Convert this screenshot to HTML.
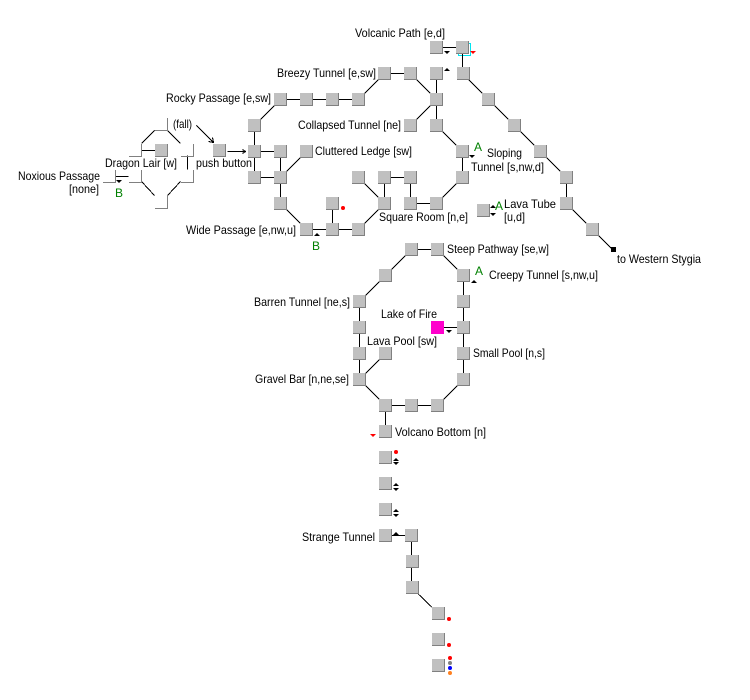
<!DOCTYPE html>
<html><head><meta charset="utf-8"><title>Map</title>
<style>
html,body{margin:0;padding:0;background:#fff;width:750px;height:700px;overflow:hidden}
svg{display:block}
text{font-family:"Liberation Sans",Arial,sans-serif;font-size:12px;fill:#000}
.g{fill:#008000}
</style></head><body>
<svg width="750" height="700" viewBox="0 0 750 700" xmlns="http://www.w3.org/2000/svg">
<defs>
<g id="r"><rect x="-1" y="-1" width="13" height="13" fill="#c0c0c0"/><path d="M11.5 -1V11.5H-1" fill="none" stroke="#808080" shape-rendering="crispEdges"/></g>
<g id="m"><rect x="-1" y="-1" width="13" height="13" fill="#ff00cc"/></g>
<path id="h" d="M11.5 -1V11.5H-1" fill="none" stroke="#808080" shape-rendering="crispEdges"/>
<path id="u" d="M-3 2H3L0 -1Z"/>
<path id="d" d="M-3 -1H3L0 2Z"/>
</defs>
<rect x="458.5" y="43.5" width="12" height="12" fill="none" stroke="#00e5f0" shape-rendering="crispEdges"/>
<g stroke="#000" fill="none" shape-rendering="crispEdges" transform="translate(-.5 -.5)">
<path d="M437 48H463V74L567 178V204L613 250"/>
<path d="M385 74H411L437 100M437 74V126L463 152V178L437 204H411V178H385V204L359 178M385 204L359 230H307L281 204V152M437 100L411 126M385 74L359 100H281L255 126V178H281L307 152M255 152H281M333 230V204"/>
<path d="M412 250H438L464 276V380L438 406H386L360 380V302L386 276L412 250M438 328H464M386 406V432M360 380L386 354"/>
<path d="M386 536H412V588L439 614"/>
<path d="M142 151H156M116 177H129M188 156V170"/>
<path d="M142 144L155 131M168 131L181 144M142 182L155 196M168 196L181 182"/>
<path d="M197 126L214 143M209 142L214 143L213 138M228 152H246M243 150L246 152L243 154"/>
</g>
<g>
<use href="#r" x="431" y="42"/><use href="#r" x="457" y="42"/>
<use href="#r" x="379" y="68"/><use href="#r" x="405" y="68"/><use href="#r" x="431" y="68"/><use href="#r" x="458" y="68"/>
<use href="#r" x="275" y="94"/><use href="#r" x="301" y="94"/><use href="#r" x="327" y="94"/><use href="#r" x="353" y="94"/><use href="#r" x="431" y="94"/><use href="#r" x="483" y="94"/>
<use href="#r" x="249" y="120"/><use href="#r" x="405" y="120"/><use href="#r" x="431" y="120"/><use href="#r" x="509" y="120"/>
<use href="#r" x="249" y="146"/><use href="#r" x="275" y="146"/><use href="#r" x="301" y="146"/><use href="#r" x="457" y="146"/><use href="#r" x="535" y="146"/>
<use href="#r" x="249" y="172"/><use href="#r" x="275" y="172"/><use href="#r" x="353" y="172"/><use href="#r" x="379" y="172"/><use href="#r" x="405" y="172"/><use href="#r" x="457" y="172"/><use href="#r" x="561" y="172"/>
<use href="#r" x="275" y="198"/><use href="#r" x="327" y="198"/><use href="#r" x="379" y="198"/><use href="#r" x="405" y="198"/><use href="#r" x="431" y="198"/><use href="#r" x="561" y="198"/><use href="#r" x="478" y="205"/>
<use href="#r" x="301" y="224"/><use href="#r" x="327" y="224"/><use href="#r" x="353" y="224"/><use href="#r" x="587" y="224"/>
<use href="#r" x="156" y="145"/><use href="#r" x="214" y="145"/>
<use href="#h" x="156" y="119"/><use href="#h" x="130" y="145"/><use href="#h" x="182" y="145"/><use href="#h" x="104" y="171"/><use href="#h" x="130" y="171"/><use href="#h" x="182" y="171"/><use href="#h" x="156" y="197"/>
<use href="#r" x="406" y="244"/><use href="#r" x="432" y="244"/>
<use href="#r" x="380" y="270"/><use href="#r" x="458" y="270"/>
<use href="#r" x="354" y="296"/><use href="#r" x="458" y="296"/>
<use href="#r" x="354" y="322"/><use href="#m" x="432" y="322"/><use href="#r" x="458" y="322"/>
<use href="#r" x="354" y="348"/><use href="#r" x="380" y="348"/><use href="#r" x="458" y="348"/>
<use href="#r" x="354" y="374"/><use href="#r" x="458" y="374"/>
<use href="#r" x="380" y="400"/><use href="#r" x="406" y="400"/><use href="#r" x="432" y="400"/>
<use href="#r" x="380" y="426"/>
<use href="#r" x="380" y="452"/><use href="#r" x="380" y="478"/><use href="#r" x="380" y="504"/>
<use href="#r" x="380" y="530"/><use href="#r" x="406" y="530"/>
<use href="#r" x="407" y="556"/><use href="#r" x="407" y="582"/>
<use href="#r" x="433" y="608"/><use href="#r" x="433" y="634"/><use href="#r" x="433" y="660"/>
</g>
<rect x="611" y="247" width="5" height="5" fill="#000"/>
<g fill="#000">
<use href="#d" x="447" y="52"/><use href="#u" x="447" y="69"/><use href="#d" x="472" y="156"/><use href="#u" x="317" y="234"/><use href="#u" x="493" y="206"/><use href="#d" x="493" y="214"/><use href="#d" x="119" y="181"/><use href="#u" x="474" y="281"/><use href="#d" x="449" y="331"/>
<use href="#u" x="396" y="459"/><use href="#d" x="396" y="463"/><use href="#u" x="396" y="484"/><use href="#d" x="396" y="489"/><use href="#u" x="396" y="510"/><use href="#d" x="396" y="515"/><use href="#u" x="396" y="533"/>
</g>
<g fill="#f00">
<use href="#d" x="473" y="52"/><use href="#d" x="373" y="435"/>
<circle cx="343" cy="208" r="2"/><circle cx="396" cy="452" r="2"/><circle cx="449" cy="619" r="2"/><circle cx="449" cy="645" r="2"/><circle cx="450" cy="658" r="2"/>
</g>
<circle cx="450" cy="663" r="2" fill="#808080"/><circle cx="450" cy="668" r="2" fill="#0000ff"/><circle cx="450" cy="673" r="2" fill="#ff8020"/>
<g lengthAdjust="spacingAndGlyphs">
<text x="355" y="37" textLength="90" lengthAdjust="spacingAndGlyphs">Volcanic Path [e,d]</text>
<text x="277" y="77" textLength="99" lengthAdjust="spacingAndGlyphs">Breezy Tunnel [e,sw]</text>
<text x="166" y="102" textLength="105" lengthAdjust="spacingAndGlyphs">Rocky Passage [e,sw]</text>
<text x="298" y="129" textLength="103" lengthAdjust="spacingAndGlyphs">Collapsed Tunnel [ne]</text>
<text x="173" y="128" textLength="19" lengthAdjust="spacingAndGlyphs">(fall)</text>
<text x="315" y="155" textLength="97" lengthAdjust="spacingAndGlyphs">Cluttered Ledge [sw]</text>
<text x="487" y="157" textLength="35" lengthAdjust="spacingAndGlyphs">Sloping</text>
<text x="471" y="171" textLength="73" lengthAdjust="spacingAndGlyphs">Tunnel [s,nw,d]</text>
<text x="105" y="167" textLength="72" lengthAdjust="spacingAndGlyphs">Dragon Lair [w]</text>
<text x="196" y="167" textLength="56" lengthAdjust="spacingAndGlyphs">push button</text>
<text x="18" y="180" textLength="82" lengthAdjust="spacingAndGlyphs">Noxious Passage</text>
<text x="69" y="193" textLength="30" lengthAdjust="spacingAndGlyphs">[none]</text>
<text x="504" y="208" textLength="52" lengthAdjust="spacingAndGlyphs">Lava Tube</text>
<text x="504" y="221" textLength="21" lengthAdjust="spacingAndGlyphs">[u,d]</text>
<text x="379" y="221" textLength="89" lengthAdjust="spacingAndGlyphs">Square Room [n,e]</text>
<text x="186" y="234" textLength="110" lengthAdjust="spacingAndGlyphs">Wide Passage [e,nw,u]</text>
<text x="447" y="253" textLength="102" lengthAdjust="spacingAndGlyphs">Steep Pathway [se,w]</text>
<text x="489" y="279" textLength="109" lengthAdjust="spacingAndGlyphs">Creepy Tunnel [s,nw,u]</text>
<text x="617" y="263" textLength="84" lengthAdjust="spacingAndGlyphs">to Western Stygia</text>
<text x="254" y="306" textLength="96" lengthAdjust="spacingAndGlyphs">Barren Tunnel [ne,s]</text>
<text x="381" y="318" textLength="56" lengthAdjust="spacingAndGlyphs">Lake of Fire</text>
<text x="367" y="345" textLength="70" lengthAdjust="spacingAndGlyphs">Lava Pool [sw]</text>
<text x="473" y="357" textLength="72" lengthAdjust="spacingAndGlyphs">Small Pool [n,s]</text>
<text x="255" y="383" textLength="94" lengthAdjust="spacingAndGlyphs">Gravel Bar [n,ne,se]</text>
<text x="395" y="436" textLength="91" lengthAdjust="spacingAndGlyphs">Volcano Bottom [n]</text>
<text x="302" y="541" textLength="73" lengthAdjust="spacingAndGlyphs">Strange Tunnel</text>
</g>
<text class="g" x="115" y="197">B</text>
<text class="g" x="312" y="250">B</text>
<text class="g" x="474" y="151">A</text>
<text class="g" x="495" y="210">A</text>
<text class="g" x="475" y="275">A</text>
</svg>
</body></html>
